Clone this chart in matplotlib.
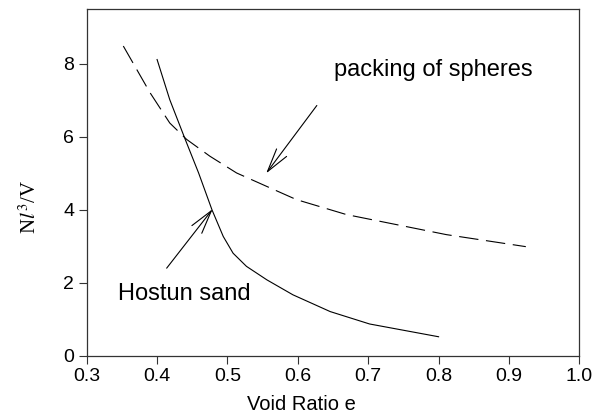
import matplotlib
matplotlib.use('Agg')
import matplotlib.pyplot as plt

plt.rcParams['font.family'] = ['Liberation Sans', 'DejaVu Sans']
plt.rcParams['mathtext.fontset'] = 'stix'
plt.rcParams['lines.scale_dashes'] = False

# Hostun sand (solid curve)
sand_e = [0.400, 0.418, 0.440, 0.459, 0.478, 0.494, 0.508, 0.527, 0.556,
          0.593, 0.646, 0.702, 0.800]
sand_n = [8.12, 7.02, 5.93, 5.01, 4.00, 3.27, 2.81, 2.45, 2.08,
          1.67, 1.21, 0.87, 0.52]

# packing of spheres (dashed curve)
sphere_e = [0.352, 0.390, 0.418, 0.442, 0.475, 0.513, 0.556, 0.598, 0.669,
            0.811, 0.924]
sphere_n = [8.49, 7.21, 6.38, 5.93, 5.47, 5.01, 4.64, 4.28, 3.87,
            3.32, 2.99]

xticks = [0.3, 0.4, 0.5, 0.6, 0.7, 0.8, 0.9, 1.0]
yticks = [0, 2, 4, 6, 8]

fig = plt.figure(figsize=(5.96, 4.18), dpi=100)
ax = fig.add_axes([0.1455, 0.149, 0.8265, 0.829])

ax.plot(sand_e, sand_n, color='black', lw=0.8)
ax.plot(sphere_e, sphere_n, color='black', lw=0.8, dashes=(14, 5.5))

arrow = dict(arrowstyle='->,head_length=1.7,head_width=0.45', color='black', lw=0.8,
             shrinkA=0, shrinkB=0, mutation_scale=10)
ax.annotate('', xy=(0.555, 5.0), xytext=(0.627, 6.86), arrowprops=arrow)
ax.annotate('', xy=(0.479, 4.02), xytext=(0.4136, 2.40), arrowprops=arrow)

ax.text(0.793, 7.83, 'packing of spheres', fontsize=17, ha='center', va='center')
ax.text(0.345, 1.69, 'Hostun sand', fontsize=17, ha='left', va='center')

ax.set_xlim(0.3, 1.0)
ax.set_ylim(0, 9.5)
ax.set_xticks(xticks)
ax.set_xticklabels(['%.1f' % t for t in xticks])
ax.set_yticks(yticks)
ax.tick_params(labelsize=14, length=6, width=0.8, pad=3, direction='out', color='#333333')
for s in ax.spines.values():
    s.set_linewidth(0.9)
    s.set_color('#333333')

ax.set_xlabel('Void Ratio e', fontsize=14.5, va='center')
ax.xaxis.set_label_coords(0.435, -0.142)
ax.set_ylabel(r'N$\mathit{l}^{\mathit{3}}$/V', fontsize=15, family='Liberation Serif',
              va='center')
ax.yaxis.set_label_coords(-0.115, 0.43)

fig.savefig('out.png', dpi=100)
